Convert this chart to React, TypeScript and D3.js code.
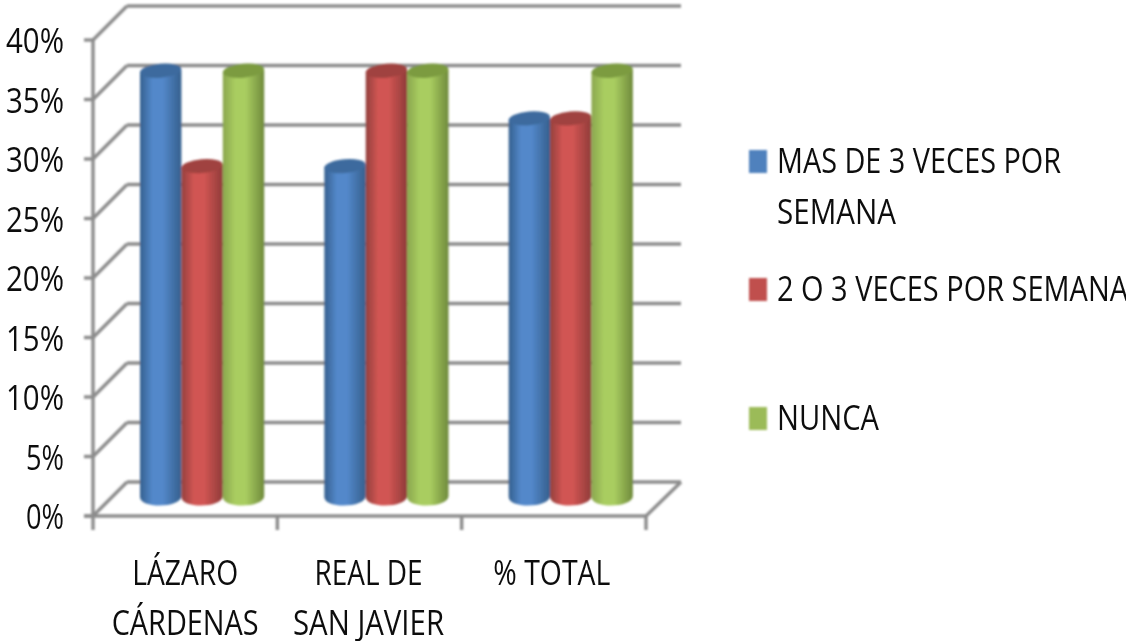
import React from "react";
import * as d3 from "d3";

const categories = [["LÁZARO", "CÁRDENAS"], ["REAL DE", "SAN JAVIER"], ["% TOTAL"]];
const seriesNames = [["MAS DE 3 VECES POR", "SEMANA"], ["2 O 3 VECES POR SEMANA"], ["NUNCA"]];
const masDe3 = [36, 28, 32];
const dosOTres = [28, 36, 32];
const nunca = [36, 36, 36];
const seriesValues = [masDe3, dosOTres, nunca];
const ticks = [0, 5, 10, 15, 20, 25, 30, 35, 40];

const palette = [
  { edgeL: "#35608f", mid: "#5388ca", edgeR: "#355f8d", top: "#3d6b9e", flat: "#4f81bd" },
  { edgeL: "#93403d", mid: "#d15553", edgeR: "#8f3b39", top: "#a0423f", flat: "#c0504d" },
  { edgeL: "#8aa64e", mid: "#a9cd60", edgeR: "#6f8a3c", top: "#7c9b41", flat: "#9bbb59" },
];

const yFront = d3.scaleLinear().domain([0, 40]).range([516, 40]);
const yBack = d3.scaleLinear().domain([0, 40]).range([482, 6]);
const yBar = d3.scaleLinear().domain([0, 40]).range([500, 23]);
const xFront = d3.scaleBand().domain(["0", "1", "2"]).range([93, 646]);
const depth = 34;
const grey = "#8c8c8c";

const textStyle = { fontFamily: "'Open Sans', sans-serif", fill: "#111" } as const;

function Stretched({ x, y, w, size, anchor, children }: any) {
  return (
    <text
      transform={`translate(${x},${y}) scale(1,1.3)`}
      textAnchor={anchor}
      fontSize={size}
      textLength={w}
      lengthAdjust="spacingAndGlyphs"
      style={textStyle}
    >
      {children}
    </text>
  );
}

const catLabelWidths = [[106, 147], [108, 151], [117]];
const catLabelShift = [0, -1, -2];
const legendWidths = [[284, 119], [351], [102]];
const legendY = [[173, 224], [301], [430]];
const legendSwatchY = [150, 278, 407];

export default function App() {
  const bw = 41.4;
  const rx = bw / 2;
  return (
    <svg
      width={1126}
      height={641}
      style={{ position: "absolute", left: 0, top: 0, background: "#fff" }}
    >
      <defs>
        {palette.map((p, i) => (
          <linearGradient key={i} id={`cyl${i}`} x1="0" x2="1" y1="0" y2="0">
            <stop offset="0" stopColor={p.edgeL} />
            <stop offset="0.3" stopColor={p.mid} />
            <stop offset="0.55" stopColor={p.mid} />
            <stop offset="1" stopColor={p.edgeR} />
          </linearGradient>
        ))}
        <filter id="soft" x="-5%" y="-5%" width="110%" height="110%">
          <feGaussianBlur stdDeviation="0.8" />
        </filter>
        <filter id="softText" x="-5%" y="-20%" width="110%" height="140%">
          <feGaussianBlur stdDeviation="0.4" />
        </filter>
      </defs>

      <g filter="url(#soft)">
        {ticks.map((t) => (
          <g key={t} stroke={grey} strokeWidth={3.4} fill="none">
            <line x1={xFront.range()[0] + depth} x2={681} y1={yBack(t)} y2={yBack(t)} />
            <line x1={93} y1={yFront(t)} x2={93 + depth} y2={yBack(t)} />
            <line x1={84} x2={93} y1={yFront(t)} y2={yFront(t)} />
          </g>
        ))}
        <line x1={93} x2={93} y1={yFront(40)} y2={530} stroke={grey} strokeWidth={3.4} />
        <line x1={84} x2={646} y1={yFront(0)} y2={yFront(0)} stroke={grey} strokeWidth={3.4} />
        <line x1={646} y1={516} x2={681} y2={482} stroke={grey} strokeWidth={3.4} />
        {["0", "1", "2"].map((c) => (
          <line
            key={c}
            x1={(xFront(c) as number) + xFront.bandwidth()}
            x2={(xFront(c) as number) + xFront.bandwidth()}
            y1={516}
            y2={530}
            stroke={grey}
            strokeWidth={3.4}
          />
        ))}

        {categories.map((_, ci) => {
          const x0 = (xFront(String(ci)) as number) + 47;
          return seriesValues.map((vals, si) => {
            const left = x0 + si * bw;
            const cx = left + rx;
            const top = yBar(vals[ci]);
            const base = yBar(0) - 4;
            const body = d3.path();
            body.moveTo(left, top + 1);
            body.lineTo(left + 2 * rx, top - 1);
            body.lineTo(left + 2 * rx, base);
            body.bezierCurveTo(left + 2 * rx, base + 12, left, base + 13, left, base + 1);
            body.closePath();
            return (
              <g key={`${ci}-${si}`}>
                <path d={body.toString()} fill={`url(#cyl${si})`} />
                <ellipse
                  cx={cx}
                  cy={top}
                  rx={rx}
                  ry={7}
                  transform={`rotate(-5 ${cx} ${top})`}
                  fill={palette[si].top}
                />
              </g>
            );
          });
        })}

        {palette.map((p, i) => (
          <rect key={i} x={749} y={legendSwatchY[i]} width={18} height={23} fill={p.flat} />
        ))}
      </g>

      <g filter="url(#softText)">
        {ticks.map((t) => (
          <Stretched key={t} x={64} y={yFront(t) + 13} size={27} anchor="end" w={t < 10 ? 38 : 58}>
            {t}%
          </Stretched>
        ))}
        {categories.map((lines, ci) => {
          const cx = (xFront(String(ci)) as number) + xFront.bandwidth() / 2 + catLabelShift[ci];
          return lines.map((l, li) => (
            <Stretched key={l} x={cx} y={585 + li * 50} size={27} anchor="middle" w={catLabelWidths[ci][li]}>
              {l}
            </Stretched>
          ));
        })}
        {seriesNames.map((lines, si) =>
          lines.map((l, li) => (
            <Stretched key={l} x={777} y={legendY[si][li]} size={27} anchor="start" w={legendWidths[si][li]}>
              {l}
            </Stretched>
          ))
        )}
      </g>
    </svg>
  );
}
